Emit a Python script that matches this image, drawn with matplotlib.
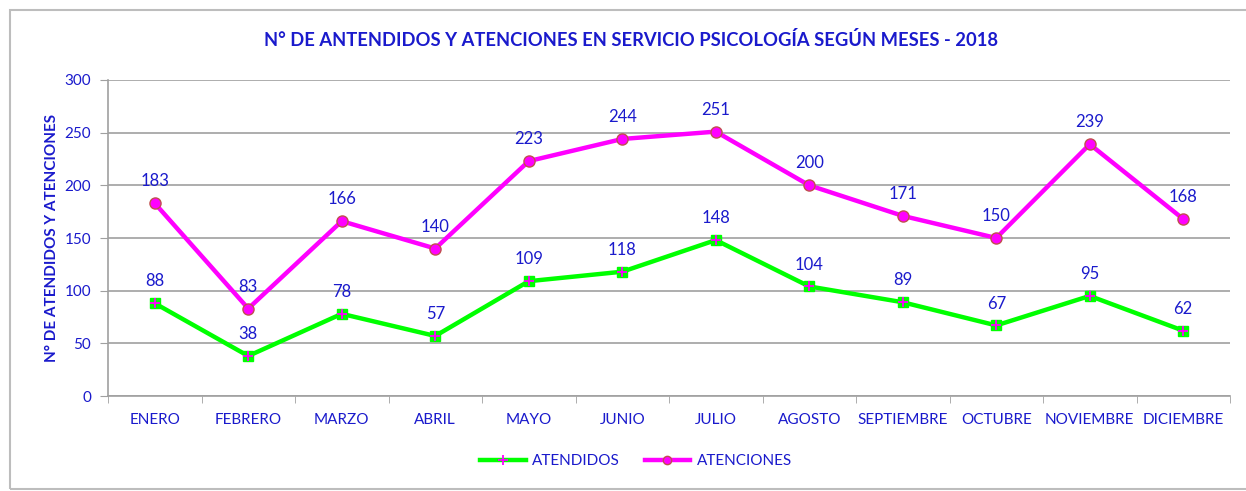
import matplotlib
matplotlib.use('Agg')
import matplotlib.pyplot as plt
from matplotlib.patches import Rectangle
import numpy as np

plt.rcParams['font.family'] = ['Lato', 'DejaVu Sans']

# ── Datos ─────────────────────────────────────────────────────────────────────
meses = ['ENERO', 'FEBRERO', 'MARZO', 'ABRIL', 'MAYO', 'JUNIO', 'JULIO',
         'AGOSTO', 'SEPTIEMBRE', 'OCTUBRE', 'NOVIEMBRE', 'DICIEMBRE']
atendidos = [88, 38, 78, 57, 109, 118, 148, 104, 89, 67, 95, 62]
atenciones = [183, 83, 166, 140, 223, 244, 251, 200, 171, 150, 239, 168]

AZUL = '#1a1acc'
VERDE = '#00ff00'
MAGENTA = '#ff00ff'
GRIS = '#a0a0a0'

fig = plt.figure(figsize=(12.46, 4.91), dpi=100)
ax = fig.add_axes([108/1246, 1 - 396/491, (1230 - 108)/1246, (396 - 80)/491])

# marco del grafico (estilo Excel)
fig.patches.append(Rectangle((10/1246, 2/491), 1240/1246, 479/491,
                             transform=fig.transFigure, fill=False,
                             edgecolor='#bdbdbd', linewidth=1.5))

x = np.arange(len(meses))
ax.plot(x, atendidos, color=VERDE, linewidth=3.2, marker='s', markersize=7,
        markerfacecolor=VERDE, markeredgecolor=VERDE, label='ATENDIDOS', zorder=3)
ax.plot(x, atendidos, linestyle='none', marker='+', markersize=7,
        markeredgecolor=MAGENTA, markeredgewidth=1.3, zorder=4)
ax.plot(x, atenciones, color=MAGENTA, linewidth=3.2, marker='o', markersize=8,
        markerfacecolor=MAGENTA, markeredgecolor='#c0504d', markeredgewidth=1,
        label='ATENCIONES', zorder=3)

for xi, v in zip(x, atendidos):
    ax.annotate(f'{v}', (xi, v), xytext=(0, 10), textcoords='offset points',
                ha='center', va='bottom', fontsize=12, color=AZUL)
for xi, v in zip(x, atenciones):
    ax.annotate(f'{v}', (xi, v), xytext=(0, 10), textcoords='offset points',
                ha='center', va='bottom', fontsize=12, color=AZUL)

ax.set_xlim(-0.5, len(meses) - 0.5)
ax.set_ylim(0, 300)
ax.set_yticks(range(0, 301, 50))
ax.set_xticks(x)
ax.set_xticklabels(meses, color=AZUL, fontsize=11)
ax.set_xticks(np.arange(-0.5, len(meses)), minor=True)
ax.tick_params(axis='x', which='major', length=0, pad=12)
ax.tick_params(axis='x', which='minor', length=5, color=GRIS, direction='out')
ax.tick_params(axis='y', labelcolor=AZUL, labelsize=11, length=6, color=GRIS, pad=6)

ax.grid(True, axis='y', color=GRIS, linewidth=1.2)
ax.set_axisbelow(True)
for s in ['top', 'right']:
    ax.spines[s].set_visible(False)
ax.spines['left'].set_color(GRIS)
ax.spines['bottom'].set_color(GRIS)
ax.spines['left'].set_linewidth(1.2)
ax.spines['bottom'].set_linewidth(1.2)

ax.set_ylabel('N° DE ATENDIDOS Y ATENCIONES', color=AZUL, fontsize=11,
              fontweight='bold', labelpad=4)
fig.text(631/1246, 1 - 40/491, 'N° DE ANTENDIDOS Y ATENCIONES EN SERVICIO PSICOLOGÍA SEGÚN MESES - 2018',
         ha='center', va='center', fontsize=13.2, fontweight='bold', color=AZUL)

h1 = plt.Line2D([], [], color=VERDE, linewidth=3.2, marker='+', markersize=7,
                markeredgecolor=MAGENTA, markeredgewidth=1.3)
h2 = plt.Line2D([], [], color=MAGENTA, linewidth=3.2, marker='o', markersize=6,
                markerfacecolor=MAGENTA, markeredgecolor='#c0504d')
fig.legend([h1, h2], ['ATENDIDOS', 'ATENCIONES'], loc='center',
           bbox_to_anchor=(636/1246, 1 - 461/491), ncol=2, frameon=False,
           fontsize=11, labelcolor=AZUL, handlelength=3.0, columnspacing=1.6,
           handletextpad=0.4)

fig.savefig('out.png', dpi=100, facecolor='white')
